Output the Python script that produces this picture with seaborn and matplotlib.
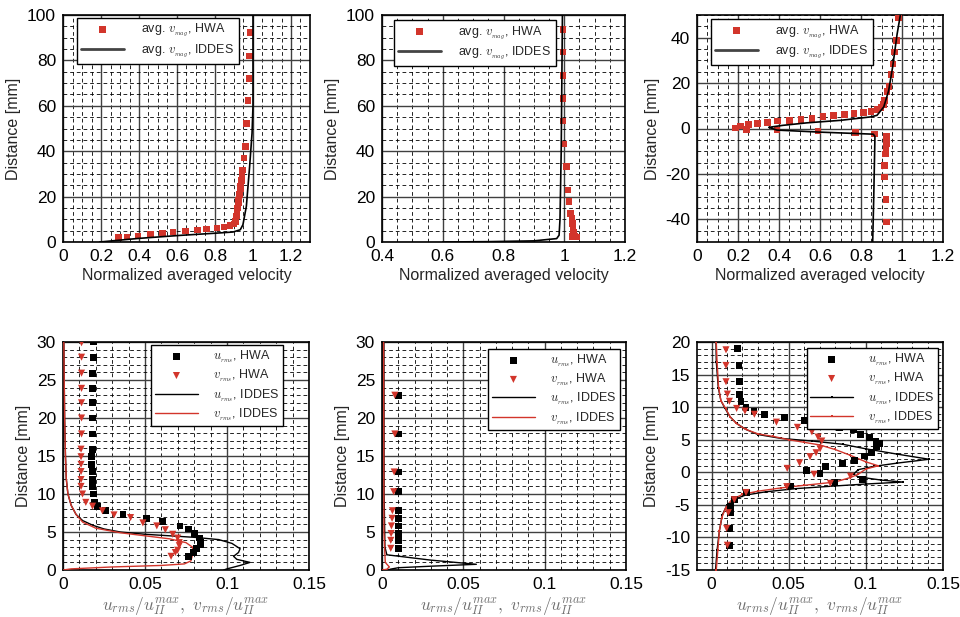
import numpy as np
import pandas as pd
import matplotlib
matplotlib.use("Agg")
import matplotlib.pyplot as plt
from matplotlib.ticker import MultipleLocator, FormatStrFormatter
import seaborn as sns

# ---------------- data ----------------
# top-left: mean velocity profile
tl_hwa_x = [0.293, 0.337, 0.395, 0.46, 0.523, 0.58, 0.644, 0.707, 0.756, 0.81,
            0.847, 0.88, 0.9, 0.907, 0.91, 0.913, 0.915, 0.917, 0.919, 0.921,
            0.923, 0.925, 0.927, 0.929, 0.931, 0.933, 0.935, 0.937, 0.939, 0.941,
            0.943, 0.945, 0.953, 0.961, 0.967, 0.974, 0.979, 0.982, 0.984]
tl_hwa_y = [1.9, 2.2, 2.6, 3.5, 4.0, 4.4, 4.8, 5.3, 5.7, 6.2,
            6.7, 7.3, 7.9, 9.1, 10.2, 11.4, 12.6, 13.8, 15.0, 16.2,
            17.4, 18.6, 19.8, 21.0, 22.2, 23.4, 24.6, 25.8, 27.0, 28.2,
            29.4, 31.8, 37, 42, 52.3, 62.3, 72.1, 82, 92.3]
tl_les_x = [0.193, 0.4, 0.614, 0.825, 0.895, 0.933, 0.947, 0.965, 0.982, 0.995, 1.0, 1.0]
tl_les_y = [0.0, 1.6, 2.9, 4.0, 4.4, 5.4, 7.6, 15.7, 33, 48, 60, 100]

# top-middle
tm_hwa_x = [1.04, 1.033, 1.025, 1.031, 1.029, 1.027, 1.025, 1.021, 1.016, 1.013,
            1.007, 0.999, 0.996, 0.996, 0.996, 0.996, 0.996]
tm_hwa_y = [2.2, 2.6, 2.4, 4.1, 6.0, 8.2, 10.4, 12.6, 17.9, 22.9,
            33.2, 43.2, 53.3, 63.3, 73.4, 83.6, 93.7]
tm_les_x = [0.6, 0.75, 0.9, 0.975, 0.983, 0.986, 0.99, 0.994]
tm_les_y = [0.0, 0.15, 0.5, 1.5, 3, 10, 40, 100]

# top-right
tr_hwa_x = [0.984, 0.972, 0.964, 0.956, 0.946, 0.937, 0.927, 0.915, 0.911, 0.898,
            0.878, 0.849, 0.813, 0.767, 0.719, 0.667, 0.615, 0.561, 0.507, 0.452,
            0.393, 0.345, 0.296, 0.252, 0.211, 0.187, 0.241, 0.39, 0.59, 0.772,
            0.867, 0.924, 0.927, 0.925, 0.922, 0.92, 0.915, 0.915, 0.922, 0.924]
tr_hwa_y = [48.7, 38.8, 33.7, 28.4, 23.7, 18.5, 16.4, 12.4, 10.6, 9.2,
            8.3, 7.6, 7.0, 6.5, 6.1, 5.7, 5.2, 4.4, 3.9, 3.6,
            3.2, 2.6, 2.2, 1.7, 1.0, 0.3, -0.4, -0.7, -1.2, -1.7,
            -2.5, -3.6, -5.1, -6.5, -8.4, -11.2, -16.3, -21.4, -31.3, -41.2]
tr_les_x = [0.992, 0.976, 0.954, 0.935, 0.911, 0.878, 0.846, 0.7, 0.537, 0.42,
            0.35, 0.39, 0.6, 0.86, 0.868, 0.862, 0.857]
tr_les_y = [50, 41.5, 26.9, 16.7, 9.5, 5.8, 5.1, 3.6, 2.5, 1.4,
            0.5, -0.7, -1.6, -2.5, -3.5, -31, -50]

# bottom-left: rms profiles
bl_u_hwa_x = [0.0184, 0.0184, 0.0178, 0.0178, 0.0178, 0.0178, 0.0178, 0.0178, 0.0174, 0.0174,
              0.0178, 0.0178, 0.0178, 0.0184, 0.019, 0.0208, 0.026, 0.0366, 0.0507, 0.0608,
              0.0713, 0.0767, 0.08, 0.0834, 0.084, 0.0838, 0.0814, 0.0796, 0.0766]
bl_u_hwa_y = [30, 28, 25.9, 23.9, 22.0, 20.0, 17.9, 15.9, 14.9, 13.9,
              12.95, 11.9, 11.0, 10.0, 8.9, 8.4, 7.8, 7.3, 6.8, 6.4,
              5.8, 5.4, 4.8, 4.2, 3.6, 3.4, 2.8, 2.3, 1.8]
bl_v_hwa_x = [0.0113, 0.0113, 0.0113, 0.0113, 0.0113, 0.0113, 0.0113, 0.0110, 0.0110, 0.0110,
              0.0110, 0.0110, 0.0110, 0.0119, 0.0139, 0.018, 0.024, 0.0311, 0.0412, 0.0487,
              0.0572, 0.0624, 0.0669, 0.0699, 0.0709, 0.0709, 0.0699, 0.0685, 0.0659]
bl_v_hwa_y = [29.9, 28.0, 25.9, 23.9, 22.0, 20.0, 17.9, 15.9, 14.9, 13.9,
              12.95, 11.9, 11.0, 10.0, 8.9, 8.4, 7.8, 7.25, 6.9, 6.2,
              5.8, 5.3, 4.7, 4.2, 3.6, 3.2, 2.6, 2.3, 1.8]
bl_u_les_x = [0.0005, 0.001, 0.0015, 0.002, 0.003, 0.005, 0.008, 0.012, 0.018, 0.025,
              0.035, 0.05, 0.065, 0.08, 0.095, 0.103, 0.108, 0.107, 0.104, 0.106,
              0.114, 0.108, 0.1, 0.098]
bl_u_les_y = [30, 20, 15, 12, 10, 8.5, 7.3, 6.5, 5.9, 5.4,
              5.0, 4.7, 4.5, 4.3, 4.0, 3.5, 2.8, 2.3, 1.8, 1.4,
              1.0, 0.6, 0.15, 0.0]
bl_v_les_x = [0.0005, 0.001, 0.0015, 0.002, 0.003, 0.005, 0.008, 0.012, 0.02, 0.035,
              0.05, 0.065, 0.075, 0.079, 0.079, 0.078, 0.074, 0.06, 0.03, 0.005, 0.0]
bl_v_les_y = [30, 20, 15, 12, 10, 8.5, 7.3, 6.3, 5.5, 4.9,
              4.5, 4.1, 3.6, 3.0, 2.0, 1.2, 0.8, 0.6, 0.4, 0.15, 0.0]

# bottom-middle
bm_u_hwa_x = [0.0099, 0.0099, 0.0099, 0.0099, 0.0099, 0.0099, 0.0099, 0.0099, 0.0099, 0.0101]
bm_u_hwa_y = [23.0, 17.9, 12.9, 10.3, 7.8, 6.8, 5.8, 4.8, 3.9, 2.85]
bm_v_hwa_x = [0.0079, 0.0079, 0.0075, 0.0072, 0.0064, 0.0062, 0.0058, 0.0056, 0.0054, 0.0054]
bm_v_hwa_y = [23.0, 17.9, 12.9, 10.3, 7.8, 6.8, 5.8, 4.8, 3.9, 2.85]
bm_u_les_x = [0.0012, 0.0013, 0.0018, 0.003, 0.03, 0.058, 0.03, 0.01, 0.005, 0.004]
bm_u_les_y = [30, 10, 3, 2, 1.3, 0.75, 0.5, 0.3, 0.1, 0.0]
bm_v_les_x = [0.001, 0.0012, 0.002, 0.0045, 0.003, 0.0]
bm_v_les_y = [30, 5, 1, 0.4, 0.1, 0.0]

# bottom-right
br_u_hwa_x = [0.0166, 0.0177, 0.018, 0.018, 0.019, 0.0223, 0.0275, 0.0342, 0.0472, 0.0602,
              0.0725, 0.0829, 0.092, 0.0963, 0.1024, 0.1065, 0.1086, 0.107, 0.1039, 0.099,
              0.0924, 0.0848, 0.0736, 0.0617, 0.0703, 0.098, 0.08, 0.051, 0.0227, 0.0147,
              0.0123, 0.0123, 0.0115, 0.0115]
br_u_hwa_y = [19.0, 16.4, 13.9, 11.9, 10.9, 9.9, 9.4, 8.9, 8.4, 8.0,
              7.3, 6.8, 6.5, 5.8, 5.3, 4.8, 4.4, 3.9, 3.0, 2.5,
              1.85, 1.35, 0.84, 0.22, -0.2, -1.1, -1.6, -2.1, -3.1, -4.2,
              -5.3, -6.2, -8.6, -11.2]
br_v_hwa_x = [0.0093, 0.0093, 0.0093, 0.0102, 0.0115, 0.0162, 0.0216, 0.0277, 0.042, 0.0556,
              0.065, 0.069, 0.0714, 0.0703, 0.0677, 0.0638, 0.057, 0.049, 0.0664, 0.09,
              0.077, 0.0487, 0.0223, 0.0147, 0.0108, 0.0097, 0.0102]
br_v_hwa_y = [18.8, 16.4, 13.9, 12.0, 10.9, 9.8, 9.4, 8.9, 7.7, 6.9,
              6.2, 5.4, 4.8, 3.6, 3.0, 2.4, 1.45, 0.6, -0.3, -0.6,
              -1.7, -2.2, -3.1, -4.2, -6.2, -8.6, -11.2]
br_u_les_x = [0.0028, 0.003, 0.0043, 0.006, 0.0087, 0.012, 0.0162, 0.022, 0.03, 0.045,
              0.065, 0.085, 0.1, 0.12, 0.141, 0.12, 0.105, 0.095, 0.092, 0.095,
              0.11, 0.124, 0.1, 0.08, 0.055, 0.035, 0.022, 0.014, 0.01, 0.007,
              0.005, 0.0035, 0.0025]
br_u_les_y = [20, 17, 13, 11, 9.8, 8.5, 7.5, 6.6, 5.8, 5.2,
              4.8, 4.3, 3.6, 2.8, 2.0, 1.4, 0.9, 0.4, -0.3, -0.7,
              -1.2, -1.5, -1.8, -2.1, -2.5, -3.0, -3.5, -4.2, -5.0, -6.5,
              -9, -12, -15]
br_v_les_x = [0.003, 0.0035, 0.0045, 0.006, 0.009, 0.012, 0.016, 0.022, 0.03, 0.04,
              0.05, 0.06, 0.07, 0.08, 0.09, 0.1, 0.108, 0.1, 0.095, 0.09,
              0.08, 0.06, 0.045, 0.03, 0.02, 0.013, 0.009, 0.0065, 0.005, 0.004, 0.003]
br_v_les_y = [20, 17, 13, 11, 9.8, 8.5, 7.5, 6.6, 5.9, 5.5,
              5.0, 4.6, 4.2, 3.5, 2.6, 1.6, 1.0, 0.5, -0.3, -0.8,
              -1.5, -2.0, -2.4, -2.9, -3.4, -4.2, -5.5, -7, -9, -12, -15]

# ---------------- style ----------------
sns.set_theme(style="white")
plt.rcParams["font.family"] = ["Liberation Sans", "DejaVu Sans"]
plt.rcParams["mathtext.fontset"] = "cm"

RED = "#d2352b"
TICK_FS = 12.5
LAB_FS = 11.5
LEG_FS = 9

fig = plt.figure(figsize=(9.6, 6.17), dpi=100)
W, H = 960.0, 617.0


def add_ax(l, r, t, b):
    return fig.add_axes([l / W, 1 - b / H, (r - l) / W, (b - t) / H])


def style_ax(ax, xlim, ylim, xmaj, xmin, ymaj, ymin, xfmt="%g"):
    ax.set_xlim(*xlim)
    ax.set_ylim(*ylim)
    ax.xaxis.set_major_locator(MultipleLocator(xmaj))
    ax.xaxis.set_minor_locator(MultipleLocator(xmin))
    ax.yaxis.set_major_locator(MultipleLocator(ymaj))
    ax.yaxis.set_minor_locator(MultipleLocator(ymin))
    ax.xaxis.set_major_formatter(FormatStrFormatter(xfmt))
    ax.yaxis.set_major_formatter(FormatStrFormatter("%g"))
    ax.grid(which="major", color="#404040", linestyle="-", linewidth=1.0)
    ax.grid(which="minor", color="black", linestyle=(0, (4.5, 3.5)), linewidth=0.6)
    ax.set_axisbelow(True)
    ax.tick_params(which="both", direction="in", labelsize=TICK_FS, length=0,
                   colors="black", labelcolor="black", pad=5)
    for s in ax.spines.values():
        s.set_color("black")
        s.set_linewidth(1.2)
        s.set_visible(True)


def frame(leg):
    f = leg.get_frame()
    f.set_edgecolor("black")
    f.set_linewidth(1.0)
    f.set_boxstyle("square", pad=0)


vlab = r"avg. $v_{_{mag}}$"


def top_panel(ax, hx, hy, lx, ly, anchor):
    sns.scatterplot(x=hx, y=hy, ax=ax, marker="s", s=22, color=RED, edgecolor="none",
                    linewidth=0, label=vlab + ", HWA", zorder=3)
    sns.lineplot(x=lx, y=ly, ax=ax, sort=False, estimator=None, color="black",
                 linewidth=1.2, label=vlab + ", IDDES", zorder=4)
    ax.set_xlabel("Normalized averaged velocity", fontsize=LAB_FS, labelpad=3)
    ax.set_ylabel("Distance [mm]", fontsize=LAB_FS, labelpad=4)
    leg = ax.legend(loc="upper left", bbox_to_anchor=anchor, borderaxespad=0,
                    fontsize=LEG_FS, fancybox=False, framealpha=1, handlelength=3.4,
                    handletextpad=1.4, labelspacing=0.25, borderpad=0.35)
    frame(leg)
    for h in leg.legend_handles:
        if not hasattr(h, "get_offsets"):
            h.set_linewidth(2.0)
            h.set_color("#444444")


def bot_panel(ax, uhx, uhy, vhx, vhy, ulx, uly, vlx, vly, anchor, mk=False):
    sns.scatterplot(x=uhx, y=uhy, ax=ax, marker="s", s=24, color="black", edgecolor="none",
                    linewidth=0, label=r"$u_{_{rms}}$, HWA", zorder=5)
    sns.scatterplot(x=vhx, y=vhy, ax=ax, marker="v", s=26, color=RED, edgecolor="none",
                    linewidth=0, label=r"$v_{_{rms}}$, HWA", zorder=5)
    kw = dict(marker="s", markersize=1.6, markeredgewidth=0) if mk else {}
    sns.lineplot(x=ulx, y=uly, ax=ax, sort=False, estimator=None, color="black",
                 linewidth=1.0, label=r"$u_{_{rms}}$, IDDES", zorder=4, **kw)
    sns.lineplot(x=vlx, y=vly, ax=ax, sort=False, estimator=None, color=RED,
                 linewidth=1.0, label=r"$v_{_{rms}}$, IDDES", zorder=4, **kw)
    ax.set_xlabel(r"$u_{rms}/u_{II}^{max},\ v_{rms}/u_{II}^{max}$", fontsize=12.5,
                  color="#707070", labelpad=2)
    ax.set_ylabel("Distance [mm]", fontsize=LAB_FS, labelpad=4)
    leg = ax.legend(loc="upper right", bbox_to_anchor=anchor, borderaxespad=0,
                    fontsize=LEG_FS, fancybox=False, framealpha=1, handlelength=3.4,
                    handletextpad=1.2, labelspacing=0.2, borderpad=0.3)
    frame(leg)


# top row
ax1 = add_ax(63, 310, 15, 242)
style_ax(ax1, (0, 1.3), (0, 100), 0.2, 0.05, 20, 5)
top_panel(ax1, tl_hwa_x, tl_hwa_y, tl_les_x, tl_les_y, (0.057, 0.987))

ax2 = add_ax(382, 625, 15, 242)
style_ax(ax2, (0.4, 1.2), (0, 100), 0.2, 0.05, 20, 5)
top_panel(ax2, tm_hwa_x, tm_hwa_y, tm_les_x, tm_les_y, (0.049, 0.978))

ax3 = add_ax(697, 943, 15, 242)
style_ax(ax3, (0, 1.2), (-50, 50), 0.2, 0.05, 20, 5)
top_panel(ax3, tr_hwa_x, tr_hwa_y, tr_les_x, tr_les_y, (0.057, 0.982))

# bottom row
ax4 = add_ax(63, 309, 342, 570)
style_ax(ax4, (0, 0.15), (0, 30), 0.05, 0.01, 5, 1)
bot_panel(ax4, bl_u_hwa_x, bl_u_hwa_y, bl_v_hwa_x, bl_v_hwa_y,
          bl_u_les_x, bl_u_les_y, bl_v_les_x, bl_v_les_y, (0.894, 0.987))

ax5 = add_ax(382, 626, 342, 570)
style_ax(ax5, (0, 0.15), (0, 30), 0.05, 0.01, 5, 1)
bot_panel(ax5, bm_u_hwa_x, bm_u_hwa_y, bm_v_hwa_x, bm_v_hwa_y,
          bm_u_les_x, bm_u_les_y, bm_v_les_x, bm_v_les_y, (0.975, 0.97))

ax6 = add_ax(697, 943, 342, 570)
style_ax(ax6, (-0.0095, 0.15), (-15, 20), 0.05, 0.01, 5, 1)
bot_panel(ax6, br_u_hwa_x, br_u_hwa_y, br_v_hwa_x, br_v_hwa_y,
          br_u_les_x, br_u_les_y, br_v_les_x, br_v_les_y, (0.98, 0.974), mk=True)

fig.savefig("out.png", dpi=100, facecolor="white")
